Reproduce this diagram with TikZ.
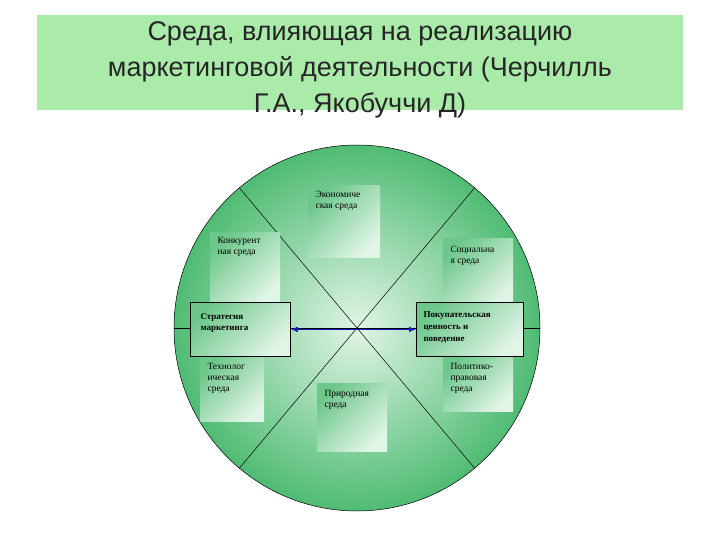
\documentclass[tikz,border=0pt]{standalone}
\usepackage{fontspec}
\setmainfont{Liberation Serif}
\newfontfamily\titlefont{Liberation Sans}
\usetikzlibrary{arrows.meta}
\definecolor{gband}{RGB}{170,235,170}
\definecolor{gdark}{RGB}{60,180,100}
\definecolor{glight}{RGB}{225,245,230}
\definecolor{arrowblue}{RGB}{20,30,200}
\tikzset{
 envbox/.style={inner sep=0pt, path picture={\shade[left color=gdark!75, right color=glight, shading angle=45] (path picture bounding box.south west) rectangle (path picture bounding box.north east);}},
 boxtext/.style={font=\fontsize{9.5}{11}\selectfont, align=left, anchor=north west},
 mainbox/.style={draw=black, line width=0.8pt, inner sep=0pt}
}
\begin{document}
\begin{tikzpicture}[x=1pt,y=-1pt]
\useasboundingbox (0,0) rectangle (720,540);
\fill[white] (0,0) rectangle (720,540);
\fill[gband] (37,15) rectangle (683,110);
\node[font=\titlefont\fontsize{27}{36}\selectfont, align=center, text=black!85] (title) at (360,70) {Среда, влияющая на реализацию\\маркетинговой деятельности (Черчилль\\Г.А., Якобуччи Д)};
\coordinate (c) at (357,328);
\shade[inner color=glight, outer color=gdark!90, draw=black, line width=0.5pt] (c) circle (183);
\draw[line width=0.5pt] (c) ++(130:183) coordinate (d1a) -- (c) -- ++(-50:183) coordinate (d1b);
\draw[line width=0.5pt] (c) ++(50:183) coordinate (d2a) -- (c) -- ++(230:183) coordinate (d2b);
\draw[line width=0.5pt] (174,328) coordinate (hl) -- (540,328) coordinate (hr);
% environment boxes
\node[envbox, minimum width=72, minimum height=72, anchor=north west] (eco) at (308,185) {};
\node[boxtext] at (312,188) {Экономиче\\ская среда};
\node[envbox, minimum width=70, minimum height=70, anchor=north west] (konk) at (210,232) {};
\node[boxtext] at (214,234) {Конкурент\\ная среда};
\node[envbox, minimum width=70, minimum height=68, anchor=north west] (soc) at (443,238) {};
\node[boxtext] at (447,243) {Социальна\\я среда};
\node[envbox, minimum width=64, minimum height=66, anchor=north west] (tech) at (200,355) {};
\node[boxtext] at (204,360) {Технолог\\ическая\\среда};
\node[envbox, minimum width=70, minimum height=68, anchor=north west] (prir) at (317,383) {};
\node[boxtext] at (321,387) {Природная\\среда};
\node[envbox, minimum width=70, minimum height=56, anchor=north west] (pol) at (443,355) {};
\node[boxtext] at (447,360) {Политико-\\правовая\\среда};
% main boxes
\node[envbox, mainbox, minimum width=100, minimum height=54, anchor=north west] (strat) at (190,302) {};
\node[boxtext, font=\bfseries\fontsize{9}{11}\selectfont] at (197,310) {Стратегия\\маркетинга};
\node[envbox, mainbox, minimum width=107, minimum height=54, anchor=north west] (pok) at (416,302) {};
\node[boxtext, font=\bfseries\fontsize{9}{12}\selectfont] at (420,308) {Покупательская\\ценность и\\поведение};
\draw[arrowblue, line width=1.4pt, {Latex[length=7pt,width=6pt]}-{Latex[length=7pt,width=6pt]}] (strat.east) -- (pok.west);
\end{tikzpicture}
\end{document}
